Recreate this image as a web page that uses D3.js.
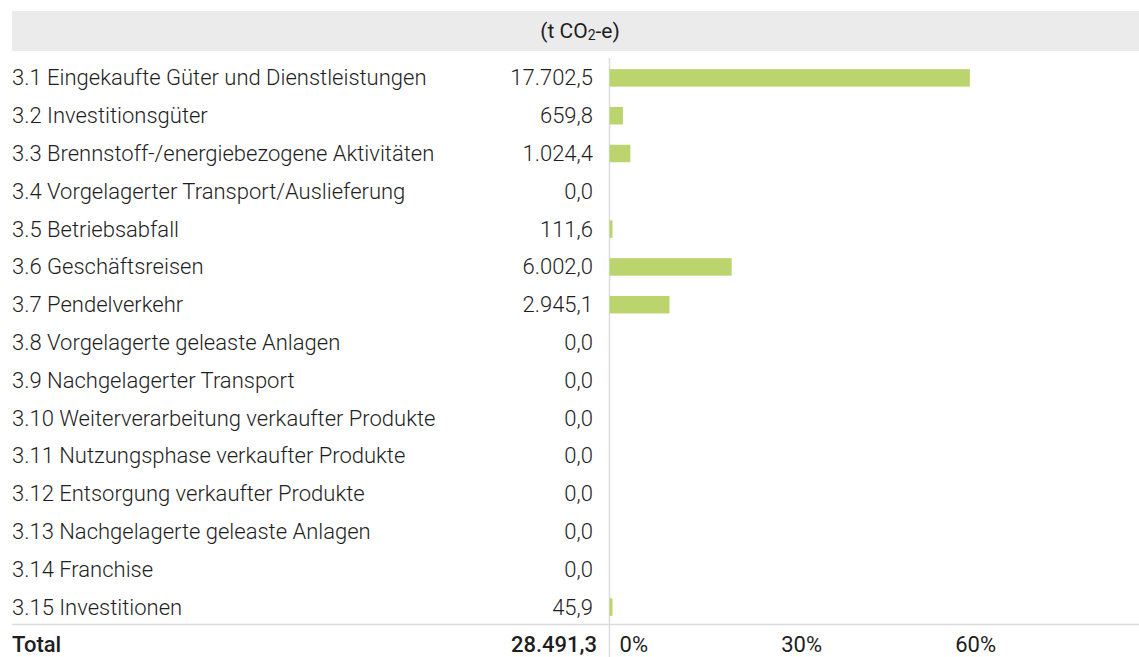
<!DOCTYPE html>
<html>
<head>
<meta charset="utf-8">
<script src="https://cdn.jsdelivr.net/npm/d3@7"></script>
<style>
  body { margin: 0; background: #fff; }
  text { font-family: Roboto, "Open Sans", sans-serif; fill: #1e1e1e; }
</style>
</head>
<body>
<svg id="chart" width="1139" height="657"></svg>
<script>
// Scope 3 categories and their emissions (t CO2-e)
const categories = [
  "3.1 Eingekaufte Güter und Dienstleistungen",
  "3.2 Investitionsgüter",
  "3.3 Brennstoff-/energiebezogene Aktivitäten",
  "3.4 Vorgelagerter Transport/Auslieferung",
  "3.5 Betriebsabfall",
  "3.6 Geschäftsreisen",
  "3.7 Pendelverkehr",
  "3.8 Vorgelagerte geleaste Anlagen",
  "3.9 Nachgelagerter Transport",
  "3.10 Weiterverarbeitung verkaufter Produkte",
  "3.11 Nutzungsphase verkaufter Produkte",
  "3.12 Entsorgung verkaufter Produkte",
  "3.13 Nachgelagerte geleaste Anlagen",
  "3.14 Franchise",
  "3.15 Investitionen"
];
const values = [17702.5, 659.8, 1024.4, 0, 111.6, 6002.0, 2945.1, 0, 0, 0, 0, 0, 0, 0, 45.9];
const total = 28491.3;
const tickValues = [0, 0.3, 0.6];

const de = d3.formatLocale({decimal: ",", thousands: ".", grouping: [3], currency: ["", " €"]});
const fmt = de.format(",.1f");
const pct = d3.format(".0%");

const svg = d3.select("#chart");
const W = 1139;

// header band
svg.append("rect")
  .attr("x", 12).attr("y", 11)
  .attr("width", W - 12).attr("height", 40)
  .attr("fill", "#ebebeb");

const head = svg.append("text")
  .attr("x", 580).attr("y", 31)
  .attr("text-anchor", "middle")
  .attr("dominant-baseline", "central")
  .style("font-size", "21px");
head.append("tspan").text("(t CO");
head.append("tspan").text("2").style("font-size", "14px").attr("dy", 4);
head.append("tspan").text("-e)").attr("dy", -4);

const rows = categories.concat(["Total"]);
const y = d3.scaleBand().domain(rows).range([59, 59 + rows.length * 37.8]);

const x = d3.scaleLinear().domain([0, 1]).range([609.5, 609.5 + 580]);

// vertical axis line
svg.append("line")
  .attr("x1", x(0)).attr("x2", x(0))
  .attr("y1", 58).attr("y2", 657)
  .attr("stroke", "#dcdcdc").attr("stroke-width", 1.5);

// separator above total
svg.append("line")
  .attr("x1", 12).attr("x2", W)
  .attr("y1", 624.5).attr("y2", 624.5)
  .attr("stroke", "#dcdcdc").attr("stroke-width", 1.5);

const data = categories.map((c, i) => ({name: c, value: values[i]}));

const row = svg.selectAll(".row")
  .data(data)
  .enter().append("g")
  .attr("class", "row");

row.append("text")
  .attr("x", 12)
  .attr("y", d => y(d.name) + y.bandwidth() / 2)
  .attr("dominant-baseline", "central")
  .style("font-size", "22px")
  .style("font-weight", 300)
  .text(d => d.name);

row.append("text")
  .attr("x", 593)
  .attr("y", d => y(d.name) + y.bandwidth() / 2)
  .attr("text-anchor", "end")
  .attr("dominant-baseline", "central")
  .style("font-size", "22px")
  .style("font-weight", 300)
  .text(d => fmt(d.value));

const barH = 17.5;
row.filter(d => d.value > 0).append("rect")
  .attr("x", x(0))
  .attr("y", d => y(d.name) + (y.bandwidth() - barH) / 2)
  .attr("width", d => Math.max(x(d.value / total) - x(0), 3))
  .attr("height", barH)
  .attr("fill", "#bbd46e");

// total row
const ty = y("Total") + y.bandwidth() / 2;
svg.append("text")
  .attr("x", 12).attr("y", ty)
  .attr("dominant-baseline", "central")
  .style("font-size", "22px").style("font-weight", 500)
  .text("Total");
svg.append("text")
  .attr("x", 597).attr("y", ty)
  .attr("text-anchor", "end")
  .attr("dominant-baseline", "central")
  .style("font-size", "22px").style("font-weight", 500)
  .text(fmt(total));

// percent ticks (right aligned)
svg.selectAll(".tick")
  .data(tickValues)
  .enter().append("text")
  .attr("class", "tick")
  .attr("x", d => x(d) + 38.5)
  .attr("y", ty)
  .attr("text-anchor", "end")
  .attr("dominant-baseline", "central")
  .style("font-size", "22px")
  .text(d => pct(d));
</script>
</body>
</html>
